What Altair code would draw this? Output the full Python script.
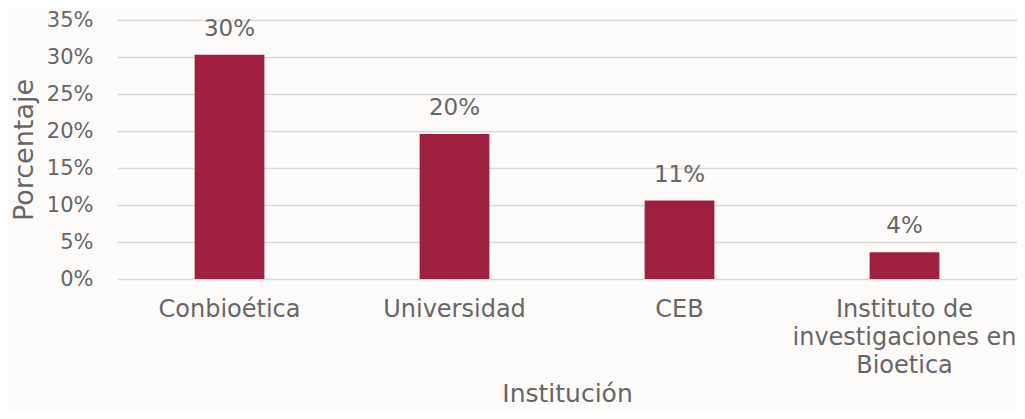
import altair as alt
import pandas as pd

categories = ["Conbioética", "Universidad", "CEB", "Instituto de investigaciones en Bioetica"]
values = [0.303, 0.196, 0.106, 0.036]
labels = ["30%", "20%", "11%", "4%"]
y_ticks = [0, 0.05, 0.10, 0.15, 0.20, 0.25, 0.30, 0.35]

df = pd.DataFrame({"Institución": categories, "Porcentaje": values, "label": labels})

FONT = "DejaVu Sans"
GREY = "#666666"
BAR = "#9E1F40"

x = alt.X(
    "Institución:N",
    sort=categories,
    scale=alt.Scale(paddingInner=0.69, paddingOuter=0.345),
    axis=alt.Axis(
        title="Institución",
        labelAngle=0,
        ticks=False,
        domain=False,
        labelPadding=18,
        labelFontSize=24,
        labelLineHeight=28,
        labelLimit=400,
        labelColor=GREY,
        labelFont=FONT,
        titleFont=FONT,
        titleFontSize=25,
        titleFontWeight="normal",
        titleColor=GREY,
        titlePadding=4,
        labelExpr="datum.label == 'Instituto de investigaciones en Bioetica' ? ['Instituto de', 'investigaciones en', 'Bioetica'] : datum.label",
    ),
)

y = alt.Y(
    "Porcentaje:Q",
    scale=alt.Scale(domain=[0, 0.35], nice=False),
    axis=alt.Axis(
        title="Porcentaje",
        values=y_ticks,
        format=".0%",
        ticks=False,
        domain=False,
        labelOverlap=False,
        labelPadding=24,
        labelFontSize=21,
        labelColor=GREY,
        labelFont=FONT,
        titleFont=FONT,
        titleFontSize=27,
        titleFontWeight="normal",
        titleColor=GREY,
        titlePadding=8,
        gridColor="#d9d9d9",
        gridWidth=1.5,
    ),
)

bars = alt.Chart(df).mark_bar(color=BAR).encode(x=x, y=y)
text = alt.Chart(df).mark_text(
    dy=-26, fontSize=23, font=FONT, color=GREY, baseline="middle"
).encode(x=x, y=y, text="label:N")

chart = (
    alt.layer(bars, text)
    .properties(
        width=900,
        height=259,
        padding={"left": 109, "top": 12, "right": 0, "bottom": 132},
        autosize=alt.AutoSizeParams(type="none"),
        background="#fefcfa",
    )
    .configure_view(stroke=None)
)

chart.save("out.html", embed_options={"renderer": "svg", "actions": False})
